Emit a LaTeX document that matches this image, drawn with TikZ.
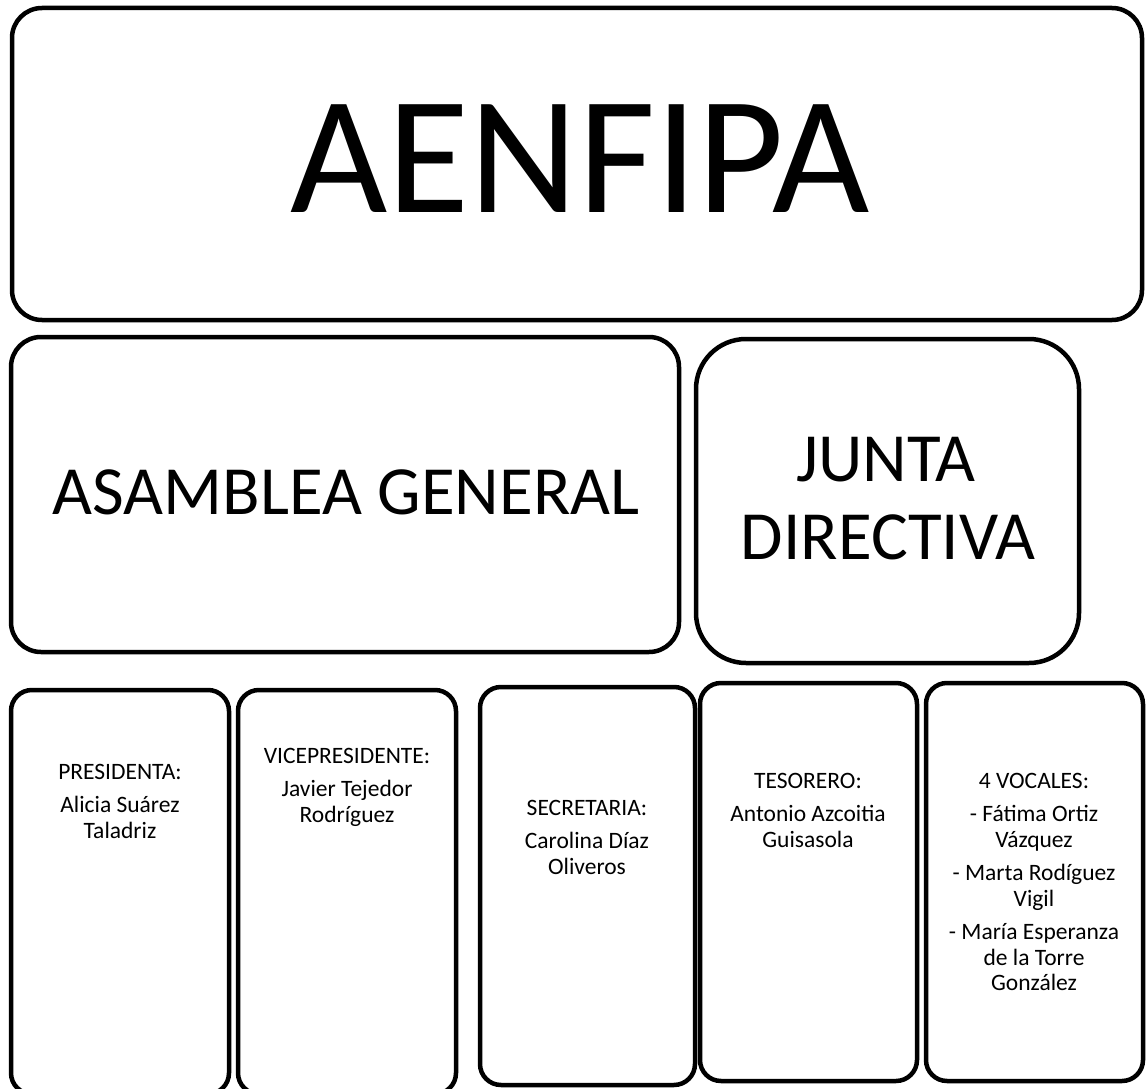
\documentclass[tikz,border=0pt]{standalone}
\usepackage{fontspec}
\setmainfont{Carlito}
\tikzset{
  box/.style={draw=black, line width=4.5pt, rounded corners=#1},
  box/.default=30pt,
  small/.style={font=\fontsize{23.5}{25.5}\selectfont, align=center, anchor=north, inner sep=0pt},
}
\begin{document}
\begin{tikzpicture}[x=1pt,y=-1pt]
\useasboundingbox (0,0) rectangle (1146,1089);
% boxes
\draw[box=30pt] (12,8) rectangle (1142,320);
\draw[box=30pt] (11,337) rectangle (679,652);
\draw[box=50pt] (696,339) rectangle (1079,663);
\draw[box=21pt] (11,690) rectangle (229,1094);
\draw[box=21pt] (238,690) rectangle (456,1094);
\draw[box=21pt] (480,687) rectangle (695,1085);
\draw[box=21pt] (700,683) rectangle (917,1081);
\draw[box=21pt] (926,683) rectangle (1143,1081);
% titles
\node[anchor=base, inner sep=0pt, font=\fontsize{168}{200}\selectfont] (aenfipa) at (580,212) {AENFIPA};
\node[anchor=base, inner sep=0pt, font=\fontsize{69}{80}\selectfont] (asam) at (346,514) {ASAMBLEA GENERAL};
\node[anchor=base, inner sep=0pt, font=\fontsize{69}{80}\selectfont] (junta) at (886,481) {JUNTA};
\node[anchor=base, inner sep=0pt, font=\fontsize{69}{80}\selectfont] (direc) at (888,559) {DIRECTIVA};
% members
\node[small] (pres) at (120,764) {PRESIDENTA:\\[8pt] Alicia Suárez\\ Taladriz};
\node[small] (vice) at (347,748) {VICEPRESIDENTE:\\[8pt] Javier Tejedor\\ Rodríguez};
\node[small] (secr) at (587,800) {SECRETARIA:\\[8pt] Carolina Díaz\\ Oliveros};
\node[small] (teso) at (808,773) {TESORERO:\\[8pt] Antonio Azcoitia\\ Guisasola};
\node[small] (voca) at (1034,773) {4 VOCALES:\\[8pt] - Fátima Ortiz\\ Vázquez\\[8pt] - Marta Rodíguez\\ Vigil\\[8pt] - María Esperanza\\ de la Torre\\ González};
\end{tikzpicture}
\end{document}
